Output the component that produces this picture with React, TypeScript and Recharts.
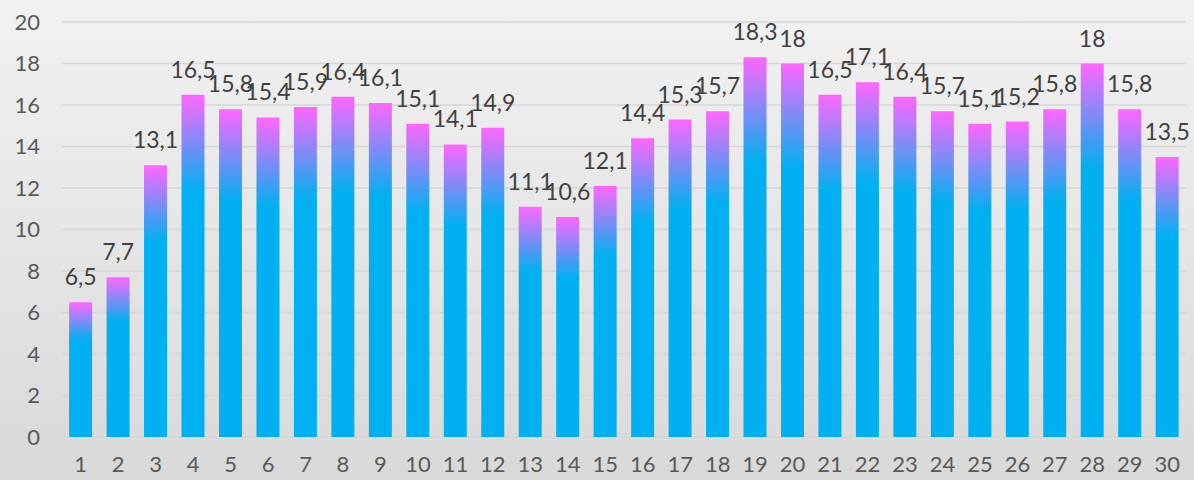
import React from 'react';
import { BarChart, Bar, XAxis, YAxis, CartesianGrid, LabelList } from 'recharts';

const days = Array.from({ length: 30 }, (_, i) => String(i + 1));
const values = [
  6.5, 7.7, 13.1, 16.5, 15.8, 15.4, 15.9, 16.4, 16.1, 15.1,
  14.1, 14.9, 11.1, 10.6, 12.1, 14.4, 15.3, 15.7, 18.3, 18,
  16.5, 17.1, 16.4, 15.7, 15.1, 15.2, 15.8, 18, 15.8, 13.5,
];
const yTicks = [0, 2, 4, 6, 8, 10, 12, 14, 16, 18, 20];

const data = days.map((d, i) => ({ day: d, value: values[i] }));

const FONT = 'Lato, "Open Sans", sans-serif';

export default function App() {
  return (
    <div
      style={{
        position: 'absolute',
        left: 0,
        top: 0,
        width: 1194,
        height: 480,
        background: 'linear-gradient(to bottom, #f2f2f2 0%, #d9d9d9 100%)',
        fontFamily: FONT,
      }}
    >
      <BarChart
        width={1194}
        height={480}
        data={data}
        margin={{ top: 22, right: 8, bottom: 8, left: 0 }}
        barCategoryGap="19%"
      >
        <defs>
          <linearGradient id="barFill" x1="0" y1="0" x2="0" y2="1">
            <stop offset="0%" stopColor="#ff66ff" />
            <stop offset="28%" stopColor="#00b0f0" />
            <stop offset="100%" stopColor="#00b0f0" />
          </linearGradient>
        </defs>
        <CartesianGrid vertical={false} stroke="#d6d6d6" strokeWidth={1.3} />
        <XAxis
          dataKey="day"
          axisLine={false}
          tickLine={false}
          tickSize={0}
          tickMargin={19}
          height={35}
          tick={{ fill: '#595959', fontSize: 22, fontFamily: FONT }}
          interval={0}
        />
        <YAxis
          domain={[0, 20]}
          ticks={yTicks}
          axisLine={false}
          tickLine={false}
          tickSize={0}
          tickMargin={22}
          width={62}
          tick={{ fill: '#595959', fontSize: 22, fontFamily: FONT }}
        />
        <Bar dataKey="value" fill="url(#barFill)" isAnimationActive={false}>
          <LabelList
            dataKey="value"
            position="top"
            offset={17}
            formatter={(v: number) => String(v).replace('.', ',')}
            style={{ fill: '#404040', fontSize: 23, fontFamily: FONT }}
          />
        </Bar>
      </BarChart>
    </div>
  );
}
